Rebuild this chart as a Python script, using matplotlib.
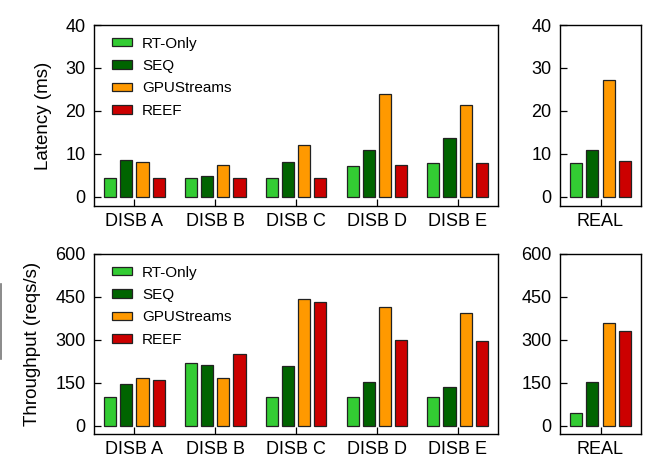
import matplotlib
matplotlib.use("Agg")
import matplotlib.pyplot as plt
from matplotlib.lines import Line2D
import numpy as np

plt.rcParams["font.family"] = ["Liberation Sans", "DejaVu Sans"]

systems = ["RT-Only", "SEQ", "GPUStreams", "REEF"]
colors = ["#33cc33", "#006400", "#ff9900", "#cc0000"]

disb = ["DISB A", "DISB B", "DISB C", "DISB D", "DISB E"]
real = ["REAL"]

# latency (ms), one list per system, over DISB A..E
lat_rt = [4.4, 4.4, 4.4, 7.3, 8.0]
lat_seq = [8.6, 4.9, 8.1, 10.9, 13.8]
lat_gpu = [8.1, 7.5, 12.1, 23.9, 21.3]
lat_reef = [4.4, 4.4, 4.4, 7.4, 8.0]
lat_real = [8.0, 10.9, 27.1, 8.3]

# throughput (reqs/s)
thr_rt = [100, 221, 100, 100, 100]
thr_seq = [146, 212, 210, 153, 135]
thr_gpu = [166, 169, 442, 414, 394]
thr_reef = [160, 252, 433, 300, 296]
thr_real = [44, 155, 358, 330]

W, H = 670, 472
fig = plt.figure(figsize=(6.7, 4.72), dpi=100)


def px_axes(left, top, right, bottom):
    return fig.add_axes([left / W, 1 - bottom / H, (right - left) / W, (bottom - top) / H])


offsets = [-0.3, -0.1, 0.1, 0.3]
bar_w = 0.15


def draw(ax, labels, series, ylim, yticks, ylabel=None, legend=False):
    x = np.arange(len(labels))
    for off, vals, c, name in zip(offsets, series, colors, systems):
        ax.bar(x + off, vals, bar_w, color=c, edgecolor="#222222", linewidth=0.9, label=name)
    ax.set_xlim(-0.5, len(labels) - 0.5)
    ax.set_ylim(*ylim)
    ax.set_xticks(x)
    ax.set_xticklabels(labels, fontsize=13)
    ax.set_yticks(yticks)
    ax.tick_params(axis="y", labelsize=13, pad=6)
    ax.tick_params(axis="x", pad=5)
    ax.tick_params(direction="in", length=5, width=0.9, top=False, right=False)
    for s in ax.spines.values():
        s.set_linewidth(1.0)
    if ylabel:
        ax.set_ylabel(ylabel, fontsize=13.5, labelpad=10)
    if legend:
        ax.legend(loc="upper left", frameon=False, fontsize=11, handlelength=1.3,
                  handleheight=0.5, handletextpad=0.65, labelspacing=0.55,
                  borderaxespad=0.0, bbox_to_anchor=(0.03, 0.97))


ax1 = px_axes(94, 25, 498, 206)
draw(ax1, disb, [lat_rt, lat_seq, lat_gpu, lat_reef], (-2.1, 40), [0, 10, 20, 30, 40],
     ylabel="Latency (ms)", legend=True)
ax2 = px_axes(560, 25, 641, 206)
draw(ax2, real, [[v] for v in lat_real], (-2.1, 40), [0, 10, 20, 30, 40])

ax3 = px_axes(94, 254, 498, 434)
draw(ax3, disb, [thr_rt, thr_seq, thr_gpu, thr_reef], (-28, 600), [0, 150, 300, 450, 600],
     ylabel="Throughput (reqs/s)", legend=True)
ax4 = px_axes(560, 254, 641, 434)
draw(ax4, real, [[v] for v in thr_real], (-28, 600), [0, 150, 300, 450, 600])

# thin gray mark on the left edge
fig.add_artist(Line2D([1 / W, 1 / W], [1 - 359 / H, 1 - 284 / H], color="#777777", linewidth=1.2))

fig.savefig("out.png", dpi=100)
